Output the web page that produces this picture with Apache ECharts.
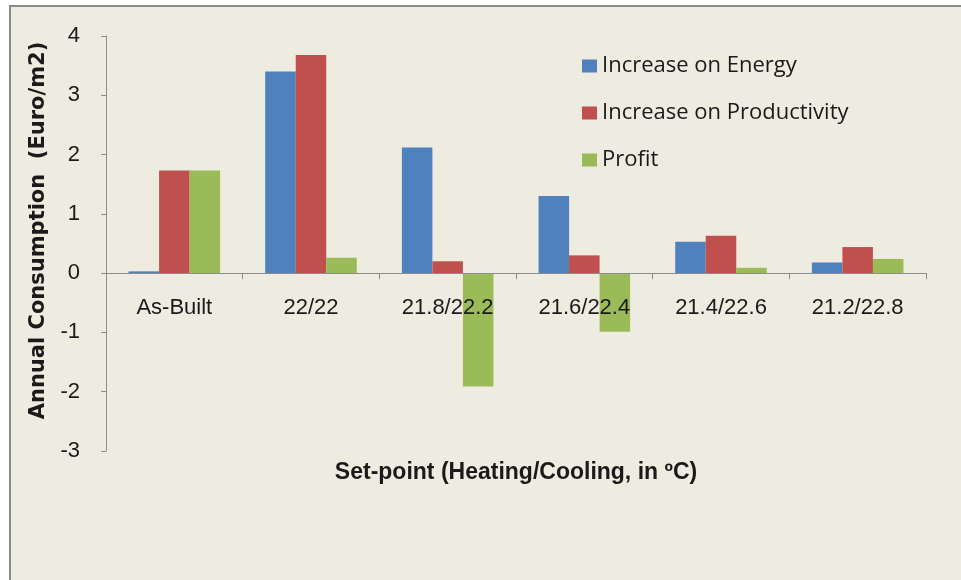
<!DOCTYPE html>
<html>
<head>
<meta charset="utf-8">
<script src="https://cdn.jsdelivr.net/npm/echarts@6/dist/echarts.min.js"></script>
<style>
  html, body { margin: 0; padding: 0; background: #ffffff; }
  #chart { width: 961px; height: 580px; }
</style>
</head>
<body>
<div id="chart"></div>
<script>
// Set-point scenarios (heating/cooling) on the category axis
var categories = ['As-Built', '22/22', '21.8/22.2', '21.6/22.4', '21.4/22.6', '21.2/22.8'];

// Annual values per scenario, Euro/m2
var energyIncrease = [0.03, 3.40, 2.12, 1.30, 0.53, 0.18];
var productivityIncrease = [1.73, 3.68, 0.20, 0.30, 0.63, 0.44];
var profit = [1.73, 0.26, -1.91, -0.99, 0.09, 0.24];

// Value axis range and step
var yMin = -3, yMax = 4, yStep = 1;

var seriesNames = ['Increase on Energy', 'Increase on Productivity', 'Profit'];
var seriesColors = ['#4F81BD', '#C0504D', '#9BBB59'];
var seriesData = [energyIncrease, productivityIncrease, profit];

var axisGray = '#8C8C8C';
var textColor = '#1A1A1A';
var font = '"Liberation Sans", Arial, sans-serif';

var chart = echarts.init(document.getElementById('chart'), null, { renderer: 'canvas' });

chart.setOption({
  backgroundColor: '#ffffff',
  animation: false,
  graphic: [{
    type: 'rect',
    z: -10,
    silent: true,
    shape: { x: 10, y: 6, width: 980, height: 600 },
    style: { fill: '#EEEBE0', stroke: '#8A8A8A', lineWidth: 2 }
  }],
  grid: {
    left: 106, right: 35, top: 36, bottom: 129,
    containLabel: false,
    outerBoundsMode: 'none'
  },
  legend: {
    orient: 'vertical',
    left: 582,
    top: 55,
    padding: 0,
    itemWidth: 15,
    itemHeight: 13,
    itemGap: 25,
    icon: 'rect',
    textStyle: { fontFamily: '"Open Sans", sans-serif', fontSize: 22, color: textColor },
    data: seriesNames
  },
  xAxis: {
    type: 'category',
    z: 5,
    data: categories,
    name: 'Set-point (Heating/Cooling, in ºC)',
    nameLocation: 'middle',
    nameGap: 10,
    nameMoveOverlap: false,
    nameTextStyle: { fontFamily: font, fontSize: 23, fontWeight: 'bold', color: textColor },
    axisLine: { onZero: true, lineStyle: { color: axisGray, width: 1 } },
    axisTick: { show: true, length: 6, lineStyle: { color: axisGray } },
    // labels sit just under the zero line, drawn over the negative bars
    axisLabel: { margin: -154, fontFamily: font, fontSize: 22, color: textColor, interval: 0 },
    splitLine: { show: false }
  },
  yAxis: {
    type: 'value',
    min: yMin,
    max: yMax,
    interval: yStep,
    name: 'Annual Consumption  (Euro/m2)',
    nameLocation: 'middle',
    nameRotate: 90,
    nameGap: 57,
    nameTextStyle: {
      fontFamily: '"DejaVu Sans", sans-serif', fontSize: 21, fontWeight: 'bold', color: textColor,
      padding: [0, 0, 0, 26]
    },
    axisLine: { show: true, lineStyle: { color: axisGray, width: 1 } },
    axisTick: { show: true, length: 5, lineStyle: { color: axisGray } },
    axisLabel: { margin: 26, fontFamily: font, fontSize: 22, color: textColor },
    splitLine: { show: false }
  },
  series: seriesNames.map(function (name, i) {
    return {
      name: name,
      type: 'bar',
      data: seriesData[i],
      barGap: '0%',
      barCategoryGap: '33%',
      itemStyle: { color: seriesColors[i] }
    };
  })
});
</script>
</body>
</html>
